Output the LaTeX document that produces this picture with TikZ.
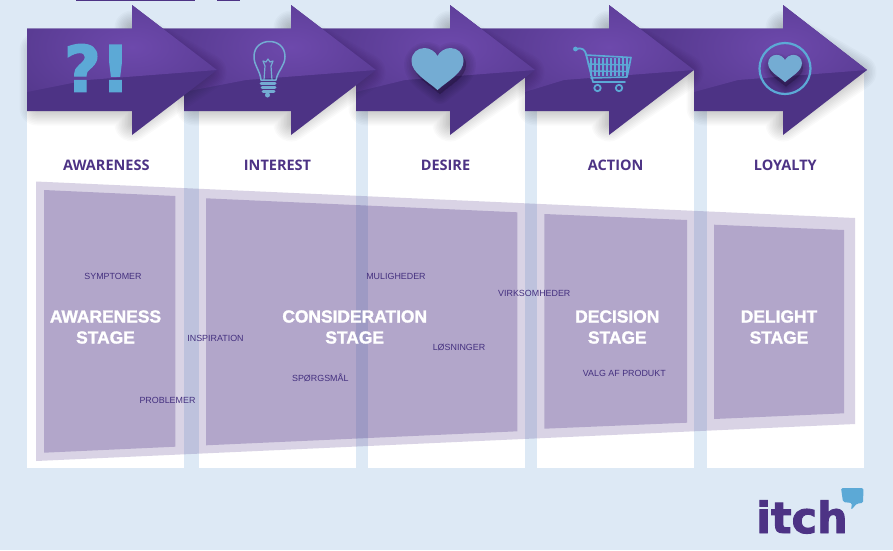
\documentclass[tikz,border=0pt]{standalone}
\usepackage{fontspec}
\usepackage{xcolor}
\usepackage{tikz}
\usetikzlibrary{positioning, calc}
\setmainfont{Liberation Sans}
\newfontfamily\headfont{Open Sans}
\newfontfamily\stagefont[BoldFeatures={FakeBold=1.6}]{Liberation Sans}
\newfontfamily\logofont[BoldFeatures={FakeBold=2.2}]{DejaVu Sans}
\definecolor{pagebg}{HTML}{DDE9F5}
\definecolor{arrowdark}{HTML}{4D3385}
\definecolor{arrowglow}{HTML}{6D49AC}
\definecolor{iconblue}{HTML}{5CA9D6}
\definecolor{heartblue}{HTML}{74ACD3}
\definecolor{inktext}{HTML}{44307F}

\begin{document}
\begin{tikzpicture}[
    x=1pt, y=-1pt,
    column/.style={fill=white},
    band/.style={fill=arrowdark, fill opacity=0.21},
    stagebox/.style={fill=arrowdark, fill opacity=0.28},
    stagelabel/.style={text=white, align=center, font=\stagefont\fontsize{17.4}{21}\selectfont\bfseries},
    phaselabel/.style={text=arrowdark, font=\headfont\fontsize{14.5}{16}\selectfont\bfseries},
    tag/.style={text=inktext, font=\fontsize{8.9}{10}\selectfont},
    iconline/.style={draw=heartblue, line width=1.5pt, line join=round, line cap=round},
    softshade/.style={draw=black, fill=black, opacity=0.03, line join=round},
    heart/.pic={
        \path[pic actions] (0,21) .. controls (-10,12) and (-26,4) .. (-26,-8)
            .. controls (-26,-16) and (-20,-21) .. (-13,-21) .. controls (-7,-21) and (-2,-17) .. (0,-13)
            .. controls (2,-17) and (7,-21) .. (13,-21) .. controls (20,-21) and (26,-16) .. (26,-8)
            .. controls (26,4) and (10,12) .. (0,21) -- cycle;
    }
]

\fill[pagebg] (0,0) rectangle (893,550);
\useasboundingbox (0,0) rectangle (893,550);
\fill[arrowdark] (76,0) rectangle (195,1.2);
\fill[arrowdark] (217,0) rectangle (240,1.2);

% white columns
\foreach \xa/\xb in {27/184, 199/356, 368/525, 537/694, 707/864}
    \fill[column] (\xa,70) rectangle (\xb,468);

% arrows, last one first so that each head lies over the next body
\foreach \xs/\xl/\xb/\xt in {694/634/783/867, 525/475/609/694, 356/316/450/535, 184/157/291/376, 27/27/132/217} {
    \foreach \w in {2,5,...,35}
        \draw[black, opacity=0.02, line width=\w pt, line join=round, fill=black, fill opacity=0.02]
            (\xs+10,50) -- (\xb,50) -- (\xb,28) -- (\xt-8,72) -- (\xb,124) -- (\xb,108) -- (\xs+10,108) -- cycle;
    \fill[arrowdark] (\xs,111) -- (\xs,70) -- (\xl,28.5) -- (\xb,28.5) -- (\xb,5) -- (\xt,70) -- (\xb,135) -- (\xb,111) -- cycle;
    \begin{scope}
        \clip (\xl,28.5) -- (\xb,28.5) -- (\xb,5) -- (\xt,70) -- (\xb-45,80) -- (\xs,92) -- (\xs,70) -- cycle;
        \shade[inner color=arrowglow, outer color=arrowdark!95!black] (\xb,47) ellipse (200 and 110);
    \end{scope}
}

% phase names
\node[phaselabel] (awareness) at (106.3,165) {AWARENESS};
\node[phaselabel] (interest) at (277.5,165) {INTEREST};
\node[phaselabel] (desire) at (445.5,165) {DESIRE};
\node[phaselabel] (action) at (615.7,165) {ACTION};
\node[phaselabel] (loyalty) at (785.3,165) {LOYALTY};

% icons
\node[text=iconblue, font=\logofont\fontsize{64}{64}\selectfont\bfseries, inner sep=0pt] (doubt) at (97,68) {?!};

\draw[iconline] (261,80) .. controls (260,70) and (254,66) .. (254,56.5) .. controls (254,47) and (261,41.5) .. (269.5,41.5)
    .. controls (278,41.5) and (285,47) .. (285,56.5) .. controls (285,66) and (278,70) .. (276,80) -- cycle;
\draw[iconline, line width=1.2pt] (264,80) -- (265,66) -- (263,61) -- (266,62) -- (268,59) -- (270,62) -- (273,61) -- (271,66) -- (272,80);
\foreach \yy/\xl/\xr in {83/261/275, 87/262/275, 91/263/274}
    \draw[iconline, line width=3pt] (\xl,\yy) -- (\xr,\yy);
\fill[heartblue] (267.5,95) circle (2.5);

\foreach \w in {2,5,...,20}
    \pic[softshade, line width=\w pt] at (440,73) {heart};
\pic[fill=heartblue] at (437.5,69) {heart};

\draw[iconline, draw=iconblue, line width=1.8pt] (576,49) .. controls (582,47) and (585,50) .. (586,54) -- (593,82) -- (625,82);
\fill[iconblue] (575.5,49) circle (2.4);
\draw[iconline, draw=iconblue, line width=1.6pt] (586,55) -- (631,57.5) -- (627,77) -- (591,78);
\foreach \xx in {591,595,...,627}
    \draw[iconline, draw=iconblue, line width=2.6pt, line cap=butt] (\xx,58) -- (\xx,76);
\draw[iconline, draw=iconblue, line width=1.4pt] (588,64) -- (630,65);
\draw[iconline, draw=iconblue, line width=1.4pt] (590,71) -- (628,71.5);
\draw[iconline, draw=iconblue, line width=1.8pt] (597.5,88) circle (3.2) (619,88) circle (3.2);

\foreach \w in {2,4,...,12}
    \pic[softshade, scale=0.65, line width=\w pt] at (786,73) {heart};
\draw[draw=iconblue, line width=2.2pt] (785,68.5) circle (25.5);
\pic[fill=heartblue, scale=0.65] at (785,68.5) {heart};

% stages
\fill[band] (36,181.5) -- (855,218) -- (855,424) -- (36,461) -- cycle;
\fill[stagebox] (44,190) -- (175.3,196) -- (175.3,446.7) -- (44,452.7) -- cycle;
\fill[stagebox] (206,198.3) -- (517.3,212.3) -- (517.3,431.3) -- (206,445.3) -- cycle;
\fill[stagebox] (544.3,214) -- (687,220) -- (687,422.7) -- (544.3,428.7) -- cycle;
\fill[stagebox] (714,224.7) -- (844,230) -- (844,413.3) -- (714,419) -- cycle;

\node[stagelabel] (awarenessstage) at (105.5,327) {AWARENESS\\STAGE};
\node[stagelabel] (considerationstage) at (354.7,327) {CONSIDERATION\\STAGE};
\node[stagelabel] (decisionstage) at (617.3,327) {DECISION\\STAGE};
\node[stagelabel] (delightstage) at (779,327) {DELIGHT\\STAGE};

\node[tag] (symptomer) at (113,276.5) {SYMPTOMER};
\node[tag] (inspiration) at (215.5,338.5) {INSPIRATION};
\node[tag] (problemer) at (167.5,400.5) {PROBLEMER};
\node[tag] (muligheder) at (396,276.5) {MULIGHEDER};
\node[tag] (spoergsmaal) at (320.3,377.7) {SPØRGSMÅL};
\node[tag] (loesninger) at (459,347.7) {LØSNINGER};
\node[tag] (virksomheder) at (534.3,293.7) {VIRKSOMHEDER};
\node[tag] (valg) at (624.3,373.7) {VALG AF PRODUKT};

% logo
\node[text=arrowdark, font=\logofont\fontsize{43}{43}\selectfont\bfseries, inner sep=0pt, anchor=base] (logo) at (802,533) {itch};
\fill[iconblue, rounded corners=1.5pt] (841,488) -- (863.5,488) -- (863,503) -- (857,503.5) -- (851,510) -- (852,503) -- (843,502) -- cycle;

\end{tikzpicture}
\end{document}
